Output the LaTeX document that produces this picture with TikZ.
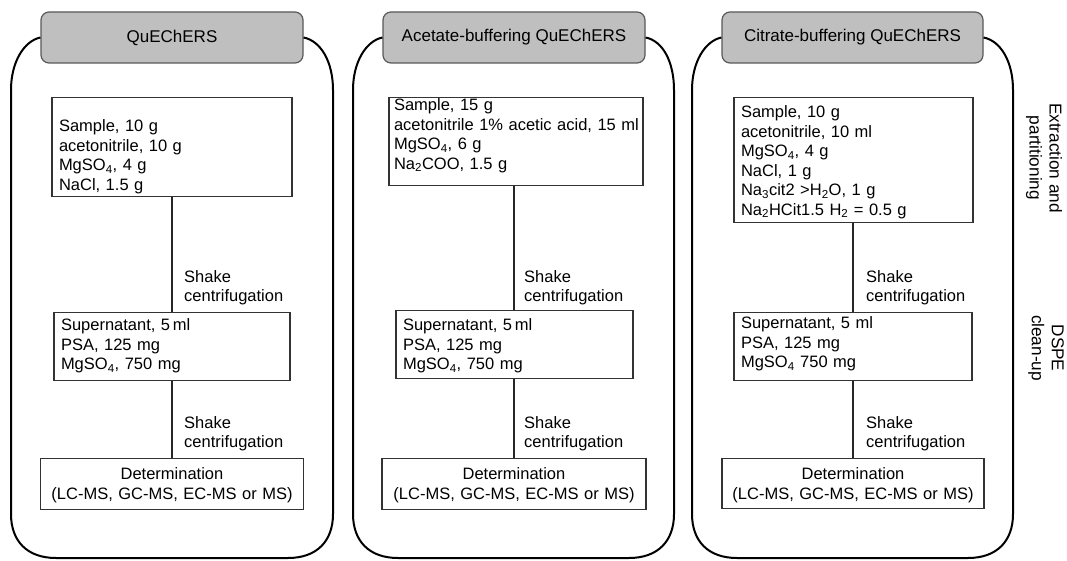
\documentclass[tikz,border=0pt]{standalone}
\usepackage{fontspec}
\setmainfont{Liberation Sans}
\newcommand{\tstr}[1]{\rule{0pt}{#1pt}}
\newcommand{\bstr}[1]{\rule[-#1pt]{0pt}{#1pt}}
\begin{document}
\begin{tikzpicture}[x=1pt,y=-1pt,
  font=\fontsize{16.5}{19.5}\selectfont,
  hdr/.style={draw=black!65, fill=black!25, line width=1.2pt, rounded corners=8pt,
    minimum height=51pt, inner sep=0pt, font=\fontsize{17}{20}\selectfont},
  stepbox/.style={draw=black!80, line width=1.1pt, inner xsep=7pt, inner ysep=0pt,
    align=left, anchor=north},
  detbox/.style={draw=black!80, line width=1.1pt, inner xsep=7pt, inner ysep=0pt,
    align=center, anchor=north},
  link/.style={draw=black!85, line width=1.1pt},
  outer/.style={draw=black, line width=2pt},
  lbl/.style={anchor=north west, align=left, inner sep=0pt},
  side/.style={rotate=-90, align=center, inner sep=0pt, font=\fontsize{17.2}{20}\selectfont}]
\useasboundingbox (0,0) rectangle (1067,561);
\fill[white] (0,0) rectangle (1067,561);

% headers
\node[hdr, minimum width=262pt] (h1) at (172,37.5) {QuEChERS};
\node[hdr, minimum width=262pt] (h2) at (514,37.5) {Acetate-buffering QuEChERS};
\node[hdr, minimum width=261pt] (h3) at (852.5,37.5) {Citrate-buffering QuEChERS};

% outer containers
\draw[outer] (h1.west) .. controls (24,41) and (11,62) .. (11,90) -- (11,514)
  .. controls (11,541) and (27,558) .. (56,558) -- (288,558)
  .. controls (317,558) and (333,541) .. (333,514) -- (333,90)
  .. controls (333,62) and (321,41) .. (h1.east);
\draw[outer] (h2.west) .. controls (366,41) and (353,62) .. (353,90) -- (353,514)
  .. controls (353,541) and (369,558) .. (398,558) -- (629,558)
  .. controls (658,558) and (674,541) .. (674,514) -- (674,90)
  .. controls (674,62) and (663,41) .. (h2.east);
\draw[outer] (h3.west) .. controls (705,41) and (692,62) .. (692,90) -- (692,514)
  .. controls (692,541) and (708,558) .. (737,558) -- (968,558)
  .. controls (997,558) and (1013,541) .. (1013,514) -- (1013,90)
  .. controls (1013,62) and (1001,41) .. (h3.east);

% panel 1
\node[stepbox, minimum width=240pt, text width=226pt] (a1) at (172,97)
  {\tstr{34}Sample, 10 g\\acetonitrile, 10 g\\MgSO\textsubscript{4}, 4 g\\NaCl, 1.5 g\bstr{6.5}};
\node[stepbox, minimum width=236pt, text width=222pt] (a2) at (172,312)
  {\tstr{18}Supernatant, 5\,ml\\PSA, 125 mg\\MgSO\textsubscript{4}, 750 mg\bstr{11}};
\node[detbox, minimum width=263pt, text width=249pt] (a3) at (172,458)
  {\tstr{21}Determination\\(LC-MS, GC-MS, EC-MS or MS)\bstr{10.5}};
\draw[link] (a1.south) -- (a1.south |- a2.north);
\draw[link] (a2.south) -- (a2.south |- a3.north);
\node[lbl] (s1) at (184,270.3) {Shake\\centrifugation};
\node[lbl] (s2) at (184,416) {Shake\\centrifugation};

% panel 2
\node[stepbox, minimum width=254pt, text width=244pt, inner xsep=5pt] (b1) at (516,97)
  {\tstr{13}Sample, 15 g\\\mbox{acetonitrile 1\% acetic acid, 15 ml}\\MgSO\textsubscript{4}, 6 g\\Na\textsubscript{2}COO, 1.5 g\bstr{16.5}};
\node[stepbox, minimum width=237pt, text width=223pt] (b2) at (514.5,310)
  {\tstr{20}Supernatant, 5\,ml\\PSA, 125 mg\\MgSO\textsubscript{4}, 750 mg\bstr{9}};
\node[detbox, minimum width=264pt, text width=250pt] (b3) at (514,458)
  {\tstr{21}Determination\\(LC-MS, GC-MS, EC-MS or MS)\bstr{10.5}};
\draw[link] (b1.south -| b3.north) -- (b3.north |- b2.north);
\draw[link] (b3.north |- b2.south) -- (b3.north);
\node[lbl] (t1) at (524,270.3) {Shake\\centrifugation};
\node[lbl] (t2) at (524,416) {Shake\\centrifugation};

% panel 3
\node[stepbox, minimum width=239pt, text width=225pt] (c1) at (853.5,97)
  {\tstr{20}Sample, 10 g\\acetonitrile, 10 ml\\MgSO\textsubscript{4}, 4 g\\NaCl, 1 g\\Na\textsubscript{3}cit2 >H\textsubscript{2}O, 1 g\\Na\textsubscript{2}HCit1.5 H\textsubscript{2} = 0.5 g\bstr{7.5}};
\node[stepbox, minimum width=238pt, text width=224pt] (c2) at (853,312)
  {\tstr{16}Supernatant, 5 ml\\PSA, 125 mg\\MgSO\textsubscript{4} 750 mg\bstr{13}};
\node[detbox, minimum width=262pt, text width=248pt] (c3) at (853,458)
  {\tstr{21}Determination\\(LC-MS, GC-MS, EC-MS or MS)\bstr{9.5}};
\draw[link] (c1.south -| c3.north) -- (c3.north |- c2.north);
\draw[link] (c3.north |- c2.south) -- (c3.north);
\node[lbl] (u1) at (866,270.3) {Shake\\centrifugation};
\node[lbl] (u2) at (866,416) {Shake\\centrifugation};

% side labels
\node[side] (ext) at (1044,158) {Extraction and\\partitioning};
\node[side] (dspe) at (1046,348) {DSPE\\clean-up};
\end{tikzpicture}
\end{document}
